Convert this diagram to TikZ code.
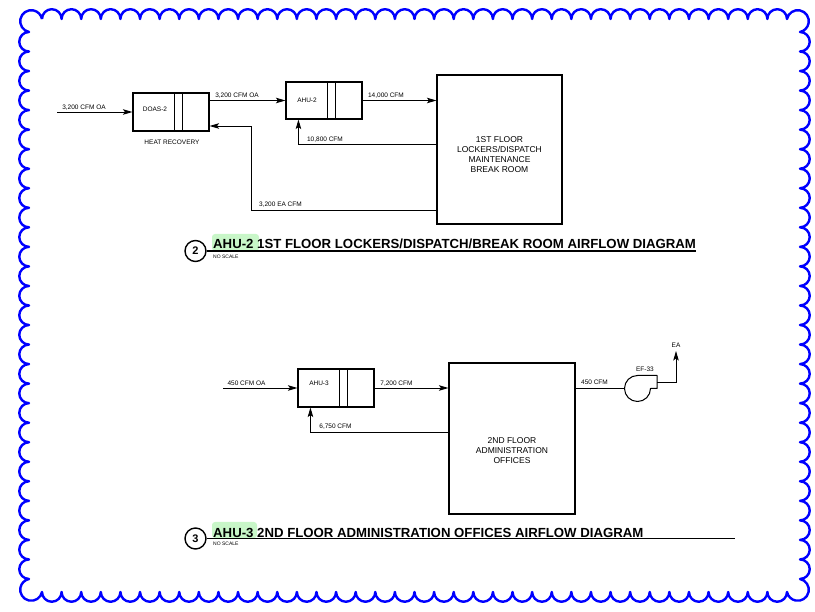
\documentclass[tikz,border=0pt]{standalone}
\usepackage{fontspec}
\setmainfont{Liberation Sans}
\usetikzlibrary{arrows.meta,calc}
\definecolor{hl}{RGB}{200,246,200}
\definecolor{cloudblue}{RGB}{0,0,255}
\begin{document}
\begin{tikzpicture}[x=1pt,y=-1pt,
  lbl/.style={font=\fontsize{6.5}{7.5}\selectfont, inner sep=0pt},
  tinylbl/.style={font=\fontsize{5}{6}\selectfont, inner sep=0pt, anchor=west},
  roomtxt/.style={font=\fontsize{8.5}{10}\selectfont, align=center, inner sep=0pt},
  unitbox/.style={draw, line width=1.1pt, minimum width=76pt, minimum height=38pt, inner sep=0pt},
  roombox/.style={draw, line width=1.1pt, inner sep=0pt},
  divider/.style={line width=1.1pt},
  flow/.style={line width=0.9pt, -{Stealth[length=9.5pt,width=5.5pt,inset=2pt]}},
  duct/.style={line width=0.9pt},
  titletxt/.style={font=\fontsize{13.2}{15}\bfseries\selectfont, inner sep=0pt, anchor=base west},
  numcircle/.style={draw, circle, line width=1.4pt, minimum size=21pt, inner sep=0pt, font=\fontsize{11}{13}\bfseries\selectfont},
  underl/.style={line width=1.3pt},
  hlbox/.style={fill=hl, rounded corners=3pt}
]
\useasboundingbox (0,0) rectangle (815,612);

% cloud border
\draw[cloudblue, line width=2.4pt, line join=round]
  (42,19) \foreach \i in {1,...,38}{ arc[start angle=180,end angle=0,radius=9.8026pt] }
  arc[start angle=168.5,end angle=-78.5,radius=11pt]
  \foreach \i in {1,...,28}{ arc[start angle=90,end angle=-90,radius=9.768pt] }
  arc[start angle=78.5,end angle=-168.5,radius=11pt]
  \foreach \i in {1,...,38}{ arc[start angle=0,end angle=-180,radius=9.8026pt] }
  arc[start angle=-11.5,end angle=-258.5,radius=11pt]
  \foreach \i in {1,...,28}{ arc[start angle=270,end angle=90,radius=9.768pt] }
  arc[start angle=258.5,end angle=11.5,radius=11pt];

% ---------- diagram 2 ----------
\node[unitbox] (doas) at (171,112) {};
\node[unitbox, minimum height=37pt] (ahu2) at (324,100.5) {};
\node[roombox, minimum width=125pt, minimum height=149pt] (room1) at (499.5,149.5) {};

% ---------- diagram 3 ----------
\node[unitbox] (ahu3) at (336,388) {};
\node[roombox, minimum width=126pt, minimum height=151pt] (room2) at (512,438.5) {};

\foreach \b in {doas,ahu2,ahu3}{
  \draw[divider] ($(\b.north west)+(42,0)$) -- ($(\b.south west)+(42,0)$);
  \draw[divider] ($(\b.north west)+(50,0)$) -- ($(\b.south west)+(50,0)$);
}

\node[lbl] (doasT) at (155,109) {DOAS-2};
\node[lbl] (hrT) at (172,142) {HEAT RECOVERY};
\node[lbl] (ahu2T) at (307,100.5) {AHU-2};
\node[lbl] (ahu3T) at (319,383) {AHU-3};
\node[roomtxt] (room1T) at (499.5,155) {1ST FLOOR\\LOCKERS/DISPATCH\\MAINTENANCE\\BREAK ROOM};
\node[roomtxt] (room2T) at (512,450.5) {2ND FLOOR\\ADMINISTRATION\\OFFICES};

% connectors diagram 2
\coordinate (oa1) at (57,112);
\draw[flow] (oa1) -- (doas.west);
\draw[flow] (doas.east |- ahu2.west) -- (ahu2.west);
\draw[flow] (ahu2.east) -- (ahu2.east -| room1.west);
\draw[flow] (room1.west |- 0,144) -| ($(ahu2.south west)+(13,0)$);
\coordinate (b1) at (251,126);
\draw[flow] (room1.west |- 0,210) -| (b1) -- (doas.east |- b1);

\node[lbl] (l1) at (84,108) {3,200 CFM OA};
\node[lbl] (l2) at (237,96) {3,200 CFM OA};
\node[lbl] (l3) at (386,95.5) {14,000 CFM};
\node[lbl] (l4) at (325,140) {10,800 CFM};
\node[lbl] (l5) at (280.5,204.5) {3,200 EA CFM};

% connectors diagram 3
\coordinate (oa2) at (223,388);
\draw[flow] (oa2) -- (ahu3.west);
\draw[flow] (ahu3.east) -- (ahu3.east -| room2.west);
\draw[flow] (room2.west |- 0,432) -| ($(ahu3.south west)+(13,0)$);

\node[lbl] (l6) at (246.5,383) {450 CFM OA};
\node[lbl] (l7) at (396.5,383.5) {7,200 CFM};
\node[lbl] (l8) at (335.5,427) {6,750 CFM};

% exhaust fan
\node[circle, minimum size=26pt, inner sep=0pt, outer sep=0pt] (fan) at (637.5,388.5) {};
\draw[duct] (room2.east |- fan.west) -- (fan.west);
\draw[line width=1pt, line join=round] (fan.north) -- ++(19.5,0) -- ++(0,13) -- (fan.east)
  arc[start angle=0,end angle=-270,radius=13pt] -- cycle;
\coordinate (fo) at (657,382);
\coordinate (ea) at (676,351);
\draw[flow] (fo) -| (ea);
\node[lbl] (eaT) at (676,345) {EA};
\node[lbl] (efT) at (645,369) {EF-33};
\node[lbl] (l9) at (594.5,382) {450 CFM};

% ---------- titles ----------
\fill[hlbox] (212,234) rectangle (259,251);
\node[numcircle] (c2) at (195.5,251) {2};
\node[titletxt] (t2) at (213,249) {AHU-2 1ST FLOOR LOCKERS/DISPATCH/BREAK ROOM AIRFLOW DIAGRAM};
\coordinate (u2) at (696,251.5);
\draw[underl] (c2.east) -- (c2.east -| u2);
\node[tinylbl] (ns2) at (213,256.5) {NO SCALE};

\fill[hlbox] (212,522) rectangle (257,538);
\node[numcircle] (c3) at (195.5,538.5) {3};
\node[titletxt] (t3) at (213,537) {AHU-3 2ND FLOOR ADMINISTRATION OFFICES AIRFLOW DIAGRAM};
\coordinate (u3) at (735,538.5);
\draw[underl] (c3.east) -- (c3.east -| u3);
\node[tinylbl] (ns3) at (213,543.5) {NO SCALE};
\end{tikzpicture}
\end{document}
